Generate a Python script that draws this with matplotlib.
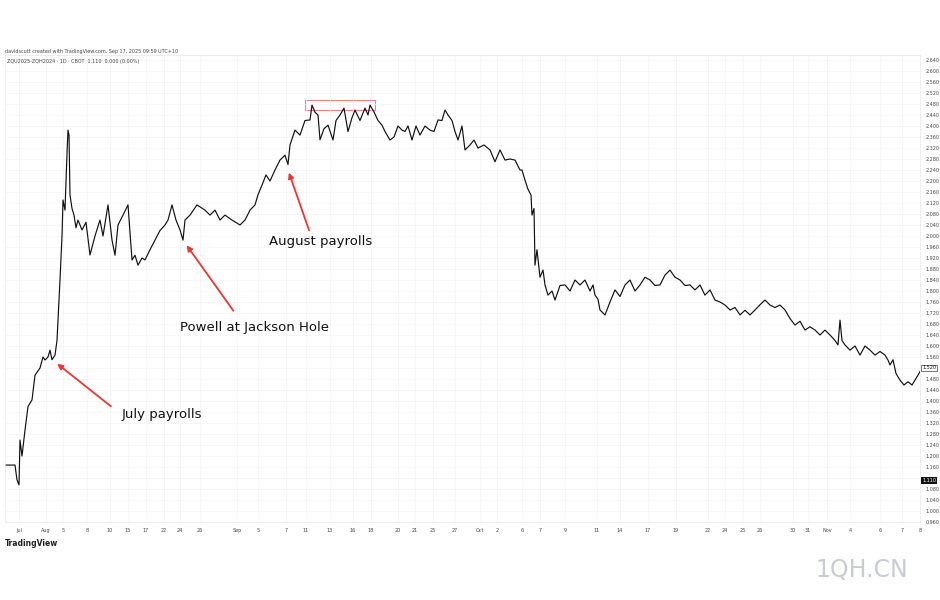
import matplotlib
matplotlib.use("Agg")
import matplotlib.pyplot as plt
from matplotlib.patches import Rectangle

# (session position, yield spread value)
series = [
 (5,1.167),(15,1.167),(16,1.14),(17,1.113),(19,1.095),(20,1.258),(22,1.20),(25,1.294),(28,1.38),(32,1.404),
 (35,1.494),(40,1.52),(43,1.56),(45,1.549),(48,1.56),(50,1.585),(52,1.55),(55,1.567),(57,1.62),(58,1.694),
 (60,1.84),(62,2.00),(63,2.131),(65,2.094),(66,2.203),(67,2.30),(68,2.385),(69,2.367),(70,2.149),(72,2.10),
 (74,2.076),(76,2.03),(78,2.058),(82,2.022),(86,2.05),(90,1.931),(95,2.00),(100,2.058),(103,2.00),(108,2.113),
 (112,1.985),(115,1.93),(118,2.04),(123,2.076),(128,2.113),(132,1.913),(135,1.93),(138,1.894),(142,1.92),(145,1.913),
 (150,1.95),(155,1.985),(160,2.02),(165,2.04),(168,2.058),(172,2.113),(176,2.058),(180,2.022),(183,1.985),(185,2.058),
 (190,2.076),(197,2.113),(205,2.094),(210,2.076),(215,2.094),(220,2.058),(225,2.076),(232,2.058),(240,2.040),(245,2.058),
 (250,2.094),(255,2.113),(258,2.15),(262,2.185),(266,2.222),(270,2.20),(275,2.240),(280,2.276),(285,2.294),(288,2.26),
 (290,2.331),(295,2.385),(300,2.367),(305,2.42),(310,2.422),(312,2.476),(315,2.45),(318,2.440),(320,2.35),(324,2.39),
 (328,2.403),(333,2.349),(336,2.42),(340,2.440),(344,2.465),(348,2.38),(352,2.430),(355,2.458),(360,2.42),(365,2.465),
 (368,2.44),(370,2.476),(374,2.451),(378,2.42),(382,2.403),(385,2.38),(390,2.349),(394,2.36),(398,2.40),(402,2.385),
 (405,2.38),(408,2.40),(412,2.349),(416,2.40),(420,2.367),(425,2.40),(430,2.385),(434,2.38),(438,2.422),(442,2.42),
 (445,2.458),(448,2.44),(452,2.420),(455,2.38),(458,2.349),(462,2.40),(465,2.313),(470,2.331),(474,2.349),(478,2.32),
 (484,2.331),(490,2.313),(495,2.27),(500,2.313),(505,2.276),(510,2.28),(515,2.276),(520,2.240),(522,2.24),(525,2.203),
 (528,2.17),(531,2.149),(532,2.076),(534,2.10),(535,1.894),(537,1.95),(540,1.85),(543,1.876),(545,1.822),(548,1.785),
 (552,1.80),(555,1.767),(560,1.82),(565,1.822),(570,1.80),(575,1.84),(580,1.822),(585,1.840),(590,1.80),(593,1.822),
 (595,1.785),(598,1.77),(600,1.731),(605,1.713),(610,1.76),(615,1.804),(620,1.78),(625,1.822),(630,1.840),(635,1.80),
 (640,1.822),(645,1.85),(650,1.840),(655,1.82),(660,1.822),(665,1.858),(670,1.876),(675,1.85),(680,1.840),(685,1.82),
 (690,1.822),(695,1.804),(700,1.822),(705,1.785),(710,1.804),(715,1.767),(720,1.76),(725,1.749),(730,1.731),(735,1.74),
 (740,1.713),(745,1.73),(750,1.713),(755,1.731),(760,1.75),(765,1.767),(770,1.749),(775,1.74),(780,1.749),(785,1.731),
 (790,1.70),(795,1.676),(800,1.69),(805,1.658),(810,1.67),(815,1.658),(820,1.64),(825,1.658),(830,1.640),(835,1.62),
 (838,1.604),(840,1.694),(842,1.62),(845,1.604),(850,1.585),(855,1.60),(860,1.567),(865,1.60),(870,1.585),(875,1.567),
 (880,1.58),(885,1.567),(888,1.549),(890,1.531),(893,1.55),(896,1.50),(900,1.476),(904,1.458),(908,1.47),(912,1.458),
 (915,1.476),(918,1.494),(922,1.520)]
t = [p[0] for p in series]
v = [p[1] for p in series]

ytick_vals = [0.96 + 0.04*i for i in range(43)]
xtick_pos = [19,46,63,87,110,128,146,164,180,200,237,258,286,306,330,353,371,398,415,433,455,480,497,522,540,565,597,620,648,676,708,725,743,760,793,808,827,850,880,902,920]
xtick_lab = ["Jul","Aug","5","8","10","15","17","22","24","26","Sep","5","7","11","13","16","18","20","21","25","27","Oct","2","6","7","9","11","14","17","19","22","24","25","26","30","31","Nov","4","6","7","8"]

fig = plt.figure(figsize=(9.4, 6.0), dpi=100)
ax = fig.add_axes([5/940, 1-522/600, 915/940, (522-55)/600])
ax.plot(t, v, color="#111111", lw=0.85)
ax.set_xlim(5, 920)
y0 = 0.96
pxv = 0.04/11
ax.set_ylim(y0, 0.96 + (522-55)*pxv)
ax.yaxis.tick_right()
ax.set_yticks(ytick_vals)
ylabs = [("" if abs(x-1.52) < 1e-6 or abs(x-1.12) < 1e-6 else f"{x:.3f}") for x in ytick_vals]
ax.set_yticklabels(ylabs, fontsize=3.5, color="#444")
ax.tick_params(axis="y", length=0, pad=4)
ax.set_xticks(xtick_pos)
ax.set_xticklabels(xtick_lab, fontsize=3.5, color="#444")
ax.tick_params(axis="x", length=0, pad=4)
ax.grid(True, color="#f3f3f3", lw=0.5)
for s in ax.spines.values():
    s.set_color("#e6e6e6"); s.set_linewidth(0.5)

def val(py):
    return y0 + (522-py)*pxv

red = "#e53935"
ann = [("July payrolls", (122, 415), (113, 408), (55, 362)),
       ("Powell at Jackson Hole", (180, 327), (235, 313), (185, 243)),
       ("August payrolls", (269, 242), (310, 233), (288, 170))]
for txt, tp, a0, a1 in ann:
    ax.text(tp[0], val(tp[1]), txt, fontsize=9.5, va="center", ha="left", color="#111")
    ax.annotate("", xy=(a1[0], val(a1[1])), xytext=(a0[0], val(a0[1])),
                arrowprops=dict(arrowstyle="-|>", color=red, lw=1.3, mutation_scale=8))
ax.add_patch(Rectangle((305, val(110)), 70, 10*pxv, fill=False, ec="#f08080", lw=0.8))

ax.text(922, 1.110, "1.110", fontsize=3.5, color="white", va="center",
        bbox=dict(boxstyle="square,pad=0.2", fc="#111", ec="none"), clip_on=False)
ax.text(922, 1.520, "1.520", fontsize=3.5, color="#111", va="center",
        bbox=dict(boxstyle="square,pad=0.2", fc="white", ec="#111", lw=0.4), clip_on=False)

fig.text(5/940, 1-52/600, "davidscutt created with TradingView.com, Sep 17, 2025 09:59 UTC+10", fontsize=3.5, color="#444", va="center")
fig.text(7/940, 1-61/600, "ZQU2025-ZQH2024 · 1D · CBOT  1.110  0.000 (0.00%)", fontsize=3.5, color="#444", va="center")
fig.text(5/940, 1-544/600, "TradingView", fontsize=5.5, fontweight="bold", color="#222", va="center")
fig.text(815/940, 1-570/600, "1QH.CN", fontsize=17, color="#c8ccd2", va="center")
fig.savefig("out.png", dpi=100, facecolor="white")
